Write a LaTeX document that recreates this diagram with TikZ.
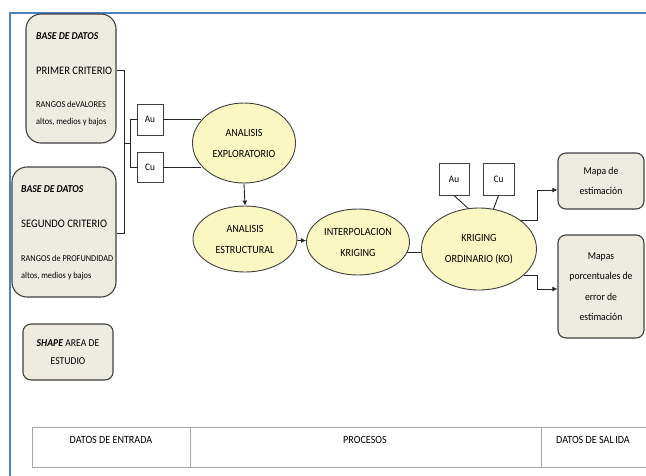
\documentclass[tikz,border=0pt]{standalone}
\usepackage{fontspec}
\setmainfont{Carlito}[FakeStretch=0.92]
\usetikzlibrary{shapes.geometric,arrows.meta}
\definecolor{frameblue}{HTML}{4F81BD}
\definecolor{boxfill}{HTML}{EEECE1}
\definecolor{ellfill}{HTML}{FBF7C2}
\definecolor{edge}{HTML}{404040}
\definecolor{tablegrey}{HTML}{A6A6A6}
\tikzset{
  inbox/.style={draw=edge,line width=1.1pt,fill=boxfill,rounded corners=15pt,inner sep=0pt},
  smallbox/.style={draw=edge,line width=1.1pt,fill=boxfill,rounded corners=8pt,inner sep=0pt,align=center},
  elem/.style={draw=edge,line width=0.9pt,fill=white,inner sep=0pt,font=\fontsize{10}{12}\selectfont},
  proc/.style={ellipse,draw=edge,line width=0.9pt,fill=ellfill,inner sep=0pt,align=center,font=\fontsize{11}{21}\selectfont},
  txt/.style={anchor=base west,inner sep=0pt},
  conn/.style={draw=black!85,line width=0.9pt},
  arr/.style={conn,-{Latex[length=5pt,width=5pt]}}
}
\begin{document}
\begin{tikzpicture}[x=1pt,y=-1pt]
\useasboundingbox (0,0) rectangle (646,475);
% frame
\draw[frameblue,line width=2.6pt] (647,13) -- (10,13) -- (10,476);
% input boxes
\node[inbox,minimum width=90pt,minimum height=129pt] (box1) at (71,78.5) {};
\node[txt,font=\fontsize{10.5}{12}\selectfont\bfseries\itshape] (b1t1) at (36,39) {BASE DE DATOS};
\node[txt,font=\fontsize{11.5}{13}\selectfont] (b1t2) at (36,74.5) {PRIMER CRITERIO};
\node[txt,font=\fontsize{9}{10}\selectfont] (b1t3) at (36,107) {RANGOS deVALORES};
\node[txt,font=\fontsize{9}{10}\selectfont] (b1t4) at (36,124) {altos, medios y bajos};

\node[inbox,minimum width=104pt,minimum height=130pt] (box2) at (64,232) {};
\node[txt,font=\fontsize{10.5}{12}\selectfont\bfseries\itshape] (b2t1) at (21,192) {BASE DE DATOS};
\node[txt,font=\fontsize{11.5}{13}\selectfont] (b2t2) at (21,227.5) {SEGUNDO CRITERIO};
\node[txt,font=\fontsize{9}{10}\selectfont] (b2t3) at (21,261) {RANGOS de PROFUNDIDAD};
\node[txt,font=\fontsize{9}{10}\selectfont] (b2t4) at (21,278) {altos, medios y bajos};

\node[smallbox,minimum width=90pt,minimum height=56pt,font=\fontsize{10.5}{18}\selectfont] (shape) at (68,352) {\textbf{\textit{SHAPE}} AREA DE\\ESTUDIO};

% elements
\node[elem,minimum width=26pt,minimum height=31pt] (au1) at (150,119.5) {Au};
\node[elem,minimum width=26pt,minimum height=30pt] (cu1) at (150,167.5) {Cu};

% processes
\node[proc,minimum width=103pt,minimum height=80pt] (explor) at (244,143) {ANALISIS\\EXPLORATORIO};
\node[proc,minimum width=104pt,minimum height=66pt] (estr) at (245,239) {ANALISIS\\ESTRUCTURAL};
\node[proc,minimum width=103pt,minimum height=66pt] (interp) at (358,242) {INTERPOLACION\\KRIGING};
\node[proc,minimum width=115pt,minimum height=82pt] (ko) at (479,249) {KRIGING\\ORDINARIO (KO)};

\node[elem,minimum width=30pt,minimum height=32pt] (au2) at (454,179) {Au};
\node[elem,minimum width=31pt,minimum height=32pt] (cu2) at (498.5,179) {Cu};

% outputs
\node[smallbox,minimum width=86pt,minimum height=56pt,font=\fontsize{10.5}{20.5}\selectfont] (out1) at (601,181) {Mapa de\\estimación};
\node[smallbox,minimum width=86pt,minimum height=103pt,font=\fontsize{10.5}{20.5}\selectfont] (out2) at (601,286.5) {Mapas\\porcentuales de\\error de\\estimación};

% bracket connectors
\coordinate (j1) at (124,70);
\coordinate (j2) at (124,233);
\coordinate (j3) at (124,143);
\coordinate (j4) at (130,143);
\draw[conn] (box1.east |- j1) -- (j1) -- (j2) -- (box2.east |- j2);
\draw[conn] (j3) -- (j4);
\draw[conn] (j4 |- au1.west) -- (j4 |- cu1.west);
\draw[conn] (j4 |- au1.west) -- (au1.west);
\draw[conn] (j4 |- cu1.west) -- (cu1.west);
\draw[conn] (au1.east) -- (au1.east -| explor.152);
\draw[conn] (cu1.east) -- (cu1.east -| explor.208);

% process flow
\draw[arr] (explor.south) -- (estr.north);
\draw[arr] (estr) -- (interp);
\draw[conn] (interp.-12) -- (interp.-12 -| ko.west);
\draw[conn] (au2.south) -- (ko.105);
\draw[conn] (cu2.south) -- (ko.70);

\coordinate (kx) at (537,250);
\draw[arr] (ko.35) -- (ko.35 -| kx) |- ([yshift=-9pt]out1.west);
\draw[arr] (ko.-30) -- (ko.-30 -| kx) |- ([yshift=-2.5pt]out2.west);

% table
\draw[tablegrey,line width=1pt] (647,427) -- (32,427) -- (32,467) -- (647,467);
\draw[tablegrey,line width=1pt] (190,427) -- (190,467);
\draw[tablegrey,line width=1pt] (541,427) -- (541,467);
\node[font=\fontsize{11}{12}\selectfont,anchor=base] (t1) at (111,443.5) {DATOS DE ENTRADA};
\node[font=\fontsize{11}{12}\selectfont,anchor=base] (t2) at (365,443.5) {PROCESOS};
\node[font=\fontsize{11}{12}\selectfont,anchor=base] (t3) at (593,443.5) {DATOS DE SAL\kern1.5pt IDA};
\end{tikzpicture}
\end{document}
